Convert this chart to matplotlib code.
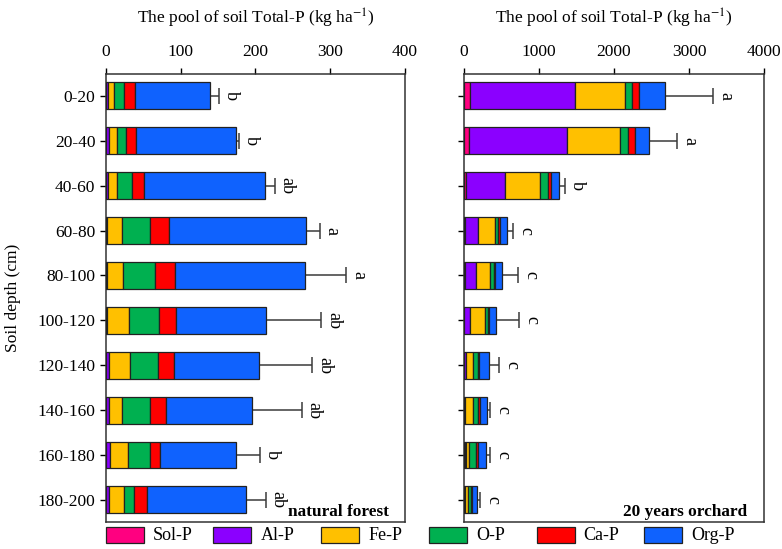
import numpy as np
import matplotlib
matplotlib.use('Agg')
from matplotlib import pyplot as plt
from matplotlib.patches import Rectangle

plt.rcParams['font.family'] = ['Liberation Serif', 'DejaVu Serif']
plt.rcParams['mathtext.fontset'] = 'stix'

depths = ['0-20', '20-40', '40-60', '60-80', '80-100', '100-120',
          '120-140', '140-160', '160-180', '180-200']
fractions = ['Sol-P', 'Al-P', 'Fe-P', 'O-P', 'Ca-P', 'Org-P']
colors = ['#FF0080', '#8B00FF', '#FFC000', '#00B050', '#FF0000', '#0F62FE']

# natural forest (kg/ha)
forest_sol = [0.5, 0.5, 0.5, 0.3, 0.3, 0.3, 0.5, 0.5, 0.5, 0.5]
forest_al = [3.0, 3.5, 2.0, 1.0, 1.0, 1.5, 4.4, 3.5, 5.2, 4.4]
forest_fe = [8.0, 11.5, 12.0, 20.0, 21.7, 29.7, 27.5, 17.7, 24.0, 19.5]
forest_o = [13.5, 11.0, 21.0, 37.7, 43.0, 39.5, 37.0, 37.8, 29.0, 12.9]
forest_ca = [14.5, 14.5, 15.0, 26.0, 26.8, 22.3, 21.7, 21.4, 14.2, 18.2]
forest_org = [100.5, 132.5, 162.7, 182.6, 174.0, 121.4, 113.4, 115.1, 100.8, 132.5]
forest_err = [11, 4.5, 12.5, 18.5, 55, 73, 71.6, 65.7, 32, 25.7]
forest_sig = ['b', 'b', 'ab', 'a', 'a', 'ab', 'ab', 'ab', 'b', 'ab']

# 20 years orchard (kg/ha)
orchard_sol = [77, 64, 29, 10, 8, 6, 5, 5, 8, 5]
orchard_al = [1406, 1306, 520, 174, 150, 78, 15, 10, 12, 8]
orchard_fe = [664, 712, 462, 227, 186, 192, 95, 100, 40, 45]
orchard_o = [93, 102, 102, 40, 49, 40, 75, 76, 100, 30]
orchard_ca = [93, 93, 44, 31, 23, 22, 15, 22, 22, 20]
orchard_org = [351, 192, 107, 94, 88, 93, 122, 89, 107, 69]
orchard_err = [640, 373, 76, 80, 214, 302, 140, 45, 58, 36]
orchard_sig = ['a', 'a', 'b', 'c', 'c', 'c', 'c', 'c', 'c', 'c']


def draw_panel(ax, parts, err, sig, xmax, step, label):
    y = np.arange(len(depths))
    left = np.zeros(len(depths))
    for vals, col in zip(parts, colors):
        vals = np.array(vals, dtype=float)
        ax.barh(y, vals, left=left, height=0.6, color=col,
                edgecolor='#222222', linewidth=0.9, zorder=3)
        left += vals
    ax.errorbar(left, y, xerr=[np.zeros(len(err)), err], fmt='none',
                ecolor='#3a3a3a', elinewidth=1.1, capsize=6, capthick=1.1,
                zorder=2)
    for yi, (tot, e, s) in enumerate(zip(left, err, sig)):
        ax.annotate(s, (tot + e, yi), xytext=(9, 0), textcoords='offset points',
                    ha='center', va='center', rotation=270, fontsize=13)
    ax.set_xlim(0, xmax)
    ax.set_ylim(len(depths) - 0.5, -0.5)
    ax.set_xticks(np.arange(0, xmax + 1, step))
    ax.xaxis.tick_top()
    ax.xaxis.set_label_position('top')
    ax.set_xlabel('The pool of soil Total-P (kg ha$^{-1}$)', fontsize=12.5,
                  labelpad=14)
    ax.set_yticks(y)
    ax.tick_params(axis='both', direction='out', length=4, width=1,
                   labelsize=12.5)
    ax.tick_params(axis='x', pad=6)
    for sp in ax.spines.values():
        sp.set_linewidth(1.1)
        sp.set_color('#333333')
    ax.text(0.945, 0.006, label, transform=ax.transAxes, ha='right',
            va='bottom', fontsize=12.4, fontweight='bold')


fig = plt.figure(figsize=(7.82, 5.49), dpi=100)
ax1 = fig.add_axes([0.1352, 0.0486, 0.3827, 0.8175])
ax2 = fig.add_axes([0.5934, 0.0486, 0.3836, 0.8175])

draw_panel(ax1, [forest_sol, forest_al, forest_fe, forest_o, forest_ca, forest_org],
           forest_err, forest_sig, 400, 100, 'natural forest')
draw_panel(ax2, [orchard_sol, orchard_al, orchard_fe, orchard_o, orchard_ca, orchard_org],
           orchard_err, orchard_sig, 4000, 1000, '20 years orchard')

ax1.set_yticklabels(depths)
ax1.set_ylabel('Soil depth (cm)', fontsize=12.5, labelpad=12)
ax2.set_yticklabels([])

# legend row along the bottom, evenly spaced like the original
W, H = 782.0, 549.0
for i, (name, col) in enumerate(zip(fractions, colors)):
    x0 = (105.7 + i * 107.7) / W
    fig.add_artist(Rectangle((x0, 1 - 542.7 / H), 38 / W, 16 / H,
                             transform=fig.transFigure, facecolor=col,
                             edgecolor='#222222', linewidth=0.9))
    fig.text(x0 + 47 / W, 1 - 535 / H, name, ha='left', va='center',
             fontsize=13)

fig.savefig('out.png', dpi=100)
